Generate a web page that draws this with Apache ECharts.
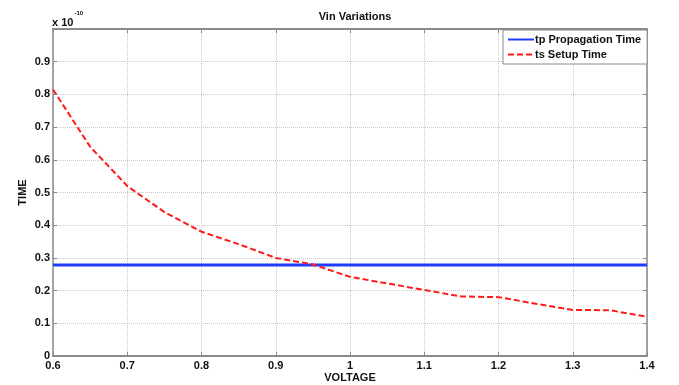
<!DOCTYPE html>
<html>
<head>
<meta charset="utf-8">
<script src="https://cdn.jsdelivr.net/npm/echarts@6/dist/echarts.min.js"></script>
<style>
  html, body { margin: 0; padding: 0; background: #fff; }
  #chart { width: 679px; height: 385px; }
</style>
</head>
<body>
<div id="chart"></div>
<script>
// voltage sweep points (V)
const voltage = [0.6, 0.65, 0.7, 0.75, 0.8, 0.85, 0.9, 0.95, 1.0, 1.05, 1.1, 1.15, 1.2, 1.25, 1.3, 1.35, 1.4];
// times in units of 1e-10 s
const tpPropagation = [0.278, 0.278, 0.278, 0.278, 0.278, 0.278, 0.278, 0.278, 0.278, 0.278, 0.278, 0.278, 0.278, 0.278, 0.278, 0.278, 0.278];
const tsSetup = [0.815, 0.64, 0.52, 0.44, 0.38, 0.342, 0.30, 0.28, 0.242, 0.222, 0.202, 0.182, 0.18, 0.16, 0.141, 0.14, 0.12];

const FONT = '"Liberation Sans", Arial, sans-serif';
const AXIS_COLOR = '#8a8a8a';

const chart = echarts.init(document.getElementById('chart'), null, { renderer: 'canvas' });

const xLabel = (v) => {
  const r = Math.round(v * 10) / 10;
  return r === 1 ? '1' : r.toFixed(1);
};
const yLabel = (v) => {
  const r = Math.round(v * 10) / 10;
  if (r === 0) return '0';
  if (r >= 1) return '';
  return r.toFixed(1);
};

const tickStyle = { show: true, inside: true, length: 4, lineStyle: { color: AXIS_COLOR } };

chart.setOption({
  animation: false,
  textStyle: { fontFamily: FONT },
  title: {
    text: 'Vin Variations',
    left: 350, top: 6, textAlign: 'center',
    textStyle: { fontFamily: FONT, fontSize: 11, fontWeight: 'bold', color: '#111' }
  },
  graphic: [{
    type: 'text',
    left: 52, top: 10,
    style: {
      text: '{a|x 10}{b|-10}',
      rich: {
        a: { fontFamily: FONT, fontSize: 11, fontWeight: 'bold', fill: '#111', verticalAlign: 'bottom', lineHeight: 18 },
        b: { fontFamily: FONT, fontSize: 6, fontWeight: 'bold', fill: '#111', verticalAlign: 'top', lineHeight: 18, padding: [0, 0, 8, 1] }
      }
    }
  }],
  legend: {
    orient: 'vertical',
    left: 503, top: 30,
    padding: [4, 6, 4, 4],
    itemGap: 4,
    itemWidth: 26,
    itemHeight: 10,
    backgroundColor: '#fff',
    borderColor: AXIS_COLOR,
    borderWidth: 1,
    itemStyle: { opacity: 0 },
    textStyle: { fontFamily: FONT, fontSize: 11, fontWeight: 'bold', color: '#111', padding: [0, 0, 0, -4] },
    data: ['tp Propagation Time', 'ts Setup Time']
  },
  grid: { left: 53, right: 32, top: 29, bottom: 29, outerBoundsMode: 'none', containLabel: false },
  xAxis: [{
    type: 'value',
    min: 0.6, max: 1.4, interval: 0.1,
    name: 'VOLTAGE', nameLocation: 'middle', nameGap: 16, nameMoveOverlap: false,
    nameTextStyle: { fontFamily: FONT, fontSize: 11, fontWeight: 'bold', color: '#111' },
    axisLine: { show: true, lineStyle: { color: AXIS_COLOR, width: 2 } },
    axisTick: tickStyle,
    axisLabel: { formatter: xLabel, margin: 4, fontFamily: FONT, fontSize: 11, fontWeight: 'bold', color: '#111' },
    splitLine: { show: true, lineStyle: { color: '#c8c8c8', type: 'dotted', width: 1 } }
  }, {
    type: 'value', position: 'top',
    min: 0.6, max: 1.4, interval: 0.1,
    axisLine: { show: true, onZero: false, lineStyle: { color: AXIS_COLOR, width: 2 } },
    axisTick: tickStyle,
    axisLabel: { show: false },
    splitLine: { show: false }
  }],
  yAxis: [{
    type: 'value',
    min: 0, max: 1, interval: 0.1,
    name: 'TIME', nameLocation: 'middle', nameGap: 25, nameMoveOverlap: false,
    nameTextStyle: { fontFamily: FONT, fontSize: 11, fontWeight: 'bold', color: '#111' },
    axisLine: { show: true, lineStyle: { color: AXIS_COLOR, width: 1.5 } },
    axisTick: tickStyle,
    axisLabel: { formatter: yLabel, margin: 3, fontFamily: FONT, fontSize: 11, fontWeight: 'bold', color: '#111' },
    splitLine: { show: true, lineStyle: { color: '#c8c8c8', type: 'dotted', width: 1 } }
  }, {
    type: 'value', position: 'right',
    min: 0, max: 1, interval: 0.1,
    axisLine: { show: true, onZero: false, lineStyle: { color: AXIS_COLOR, width: 1.5 } },
    axisTick: tickStyle,
    axisLabel: { show: false },
    splitLine: { show: false }
  }],
  series: [{
    name: 'tp Propagation Time',
    type: 'line',
    symbol: 'none',
    lineStyle: { color: '#1f3cff', width: 3 },
    itemStyle: { color: '#1f3cff' },
    data: voltage.map((v, i) => [v, tpPropagation[i]])
  }, {
    name: 'ts Setup Time',
    type: 'line',
    symbol: 'none',
    lineStyle: { color: '#ff1a1a', width: 2, type: [6, 3] },
    itemStyle: { color: '#ff1a1a' },
    data: voltage.map((v, i) => [v, tsSetup[i]])
  }]
});
</script>
</body>
</html>
